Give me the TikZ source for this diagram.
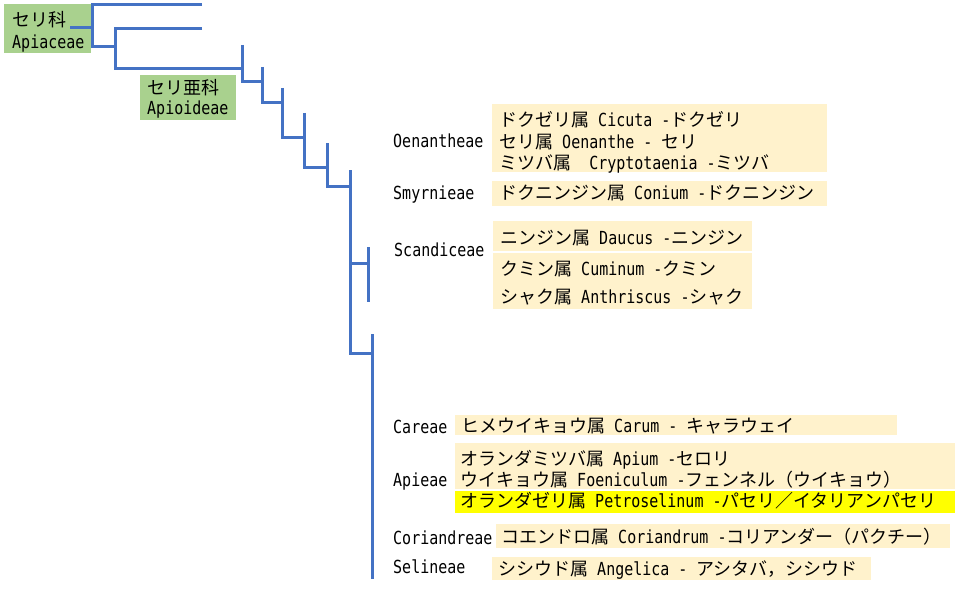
\documentclass[tikz,border=0pt]{standalone}
\usepackage{fontspec}
\setmainfont{DejaVu Sans Mono}[FakeStretch=0.833]
\newfontfamily\jpfont{Noto Sans CJK JP}
\newcommand\J[1]{{\jpfont #1}}
\definecolor{treeblue}{HTML}{4472C4}
\definecolor{boxgreen}{HTML}{A9D18E}
\definecolor{boxbeige}{HTML}{FFF2CC}
\definecolor{boxyellow}{HTML}{FFFF00}
\begin{document}
\begin{tikzpicture}[x=1pt,y=-1pt,
  txt/.style={anchor=base west, inner sep=0pt, font=\fontsize{18}{22}\selectfont},
  tree/.style={treeblue, line width=3pt}]
\useasboundingbox (0,0) rectangle (955,591);
\fill[white] (0,0) rectangle (955,591);
% boxes
\fill[boxgreen] (4,4) rectangle (91,53);
\fill[boxgreen] (140,75) rectangle (236,120);
\fill[boxbeige] (492,104) rectangle (827,172);
\fill[boxbeige] (492,181) rectangle (827,206);
\fill[boxbeige] (493,221) rectangle (752,251);
\fill[boxbeige] (493,252.5) rectangle (752,309);
\fill[boxbeige] (455,415) rectangle (897,435);
\fill[boxbeige] (455,443) rectangle (955,489);
\fill[boxyellow] (455,491) rectangle (955,513);
\fill[boxbeige] (496,524) rectangle (950,548);
\fill[boxbeige] (492,557) rectangle (871,580);
% tree
\coordinate (root) at (70,28);
\draw[tree] (root) -- (92,28);
\draw[tree] (202,5) -- (92,5) -- (92,47) -- (115,47);
\draw[tree] (202,29) -- (115,29) -- (115,69) -- (242,69);
\draw[tree] (242,45) -- (242,82) -- (262,82);
\draw[tree] (262,67) -- (262,103) -- (282,103);
\draw[tree] (282,88) -- (282,137) -- (304,137);
\draw[tree] (304,113) -- (304,167) -- (327,167);
\draw[tree] (327,143) -- (327,186) -- (350,186);
\draw[tree] (350,170) -- (350,353) -- (372,353);
\draw[tree] (350,263) -- (368,263);
\draw[tree] (368,247) -- (368,302);
\draw[tree] (372,334) -- (372,579);
% green labels
\node[txt] (apj) at (12,26.5) {\J{セリ科}};
\node[txt] (apl) at (12,48.5) {Apiaceae};
\node[txt] (aoj) at (147,94.5) {\J{セリ亜科}};
\node[txt] (aol) at (147,114.5) {Apioideae};
% tribe labels
\node[txt] (t1) at (393,147.5) {Oenantheae};
\node[txt] (t2) at (393,199.5) {Smyrnieae};
\node[txt] (t3) at (394,256.5) {Scandiceae};
\node[txt] (t4) at (393,433.5) {Careae};
\node[txt] (t5) at (393,486.5) {Apieae};
\node[txt] (t6) at (393,544.5) {Coriandreae};
\node[txt] (t7) at (393,573.5) {Selineae};
% genus rows
\node[txt] (g1) at (499,126.5) {\J{ドクゼリ属} Cicuta -\J{ドクゼリ}};
\node[txt] (g2) at (499,148.5) {\J{セリ属} Oenanthe - \J{セリ}};
\node[txt] (g3) at (499,169.5) {\J{ミツバ属}~~Cryptotaenia -\J{ミツバ}};
\node[txt] (g4) at (499,199.5) {\J{ドクニンジン属} Conium -\J{ドクニンジン}};
\node[txt] (g5) at (500,244.5) {\J{ニンジン属} Daucus -\J{ニンジン}};
\node[txt] (g6) at (500,275.5) {\J{クミン属} Cuminum -\J{クミン}};
\node[txt] (g7) at (500,303.5) {\J{シャク属} Anthriscus -\J{シャク}};
\node[txt] (g8) at (461,432.5) {\J{ヒメウイキョウ属} Carum - \J{キャラウェイ}};
\node[txt] (g9) at (460,465.5) {\J{オランダミツバ属} Apium -\J{セロリ}};
\node[txt] (g10) at (460,486.5) {\J{ウイキョウ属} Foeniculum -\J{フェンネル（ウイキョウ）}};
\node[txt] (g11) at (460,507.5) {\J{オランダゼリ属} Petroselinum -\J{パセリ／イタリアンパセリ}};
\node[txt] (g12) at (501,543.5) {\J{コエンドロ属} Coriandrum -\J{コリアンダー（パクチー）}};
\node[txt] (g13) at (498,575.5) {\J{シシウド属} Angelica - \J{アシタバ，シシウド}};
\end{tikzpicture}
\end{document}
